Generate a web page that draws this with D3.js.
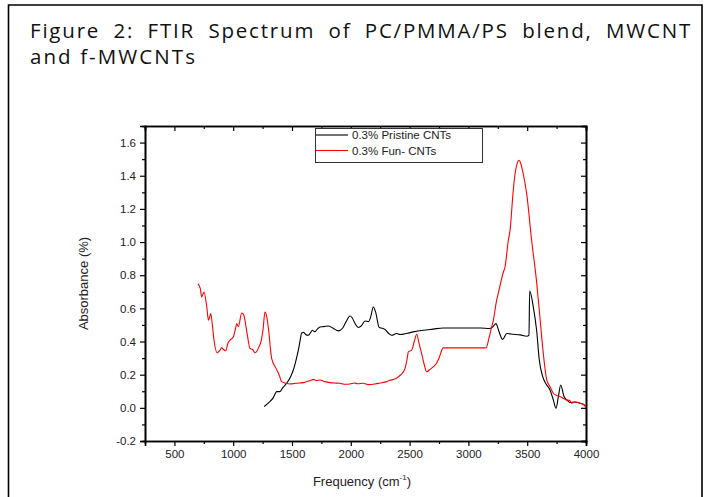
<!DOCTYPE html>
<html>
<head>
<meta charset="utf-8">
<script src="https://cdn.jsdelivr.net/npm/d3@7"></script>
<style>
  html, body { margin: 0; padding: 0; background: #fff; }
  svg { display: block; }
</style>
</head>
<body>
<svg width="704" height="497"></svg>
<script>
// Spectrum values (wavenumber in cm-1, absorbance)
const pristineX = [1264, 1300, 1340, 1370, 1398, 1420, 1455, 1490, 1511, 1535, 1554, 1570, 1582, 1600, 1620, 1639, 1655, 1673, 1685, 1696, 1715, 1738, 1770, 1809, 1850, 1894, 1930, 1960, 1993, 2010, 2035, 2064, 2090, 2121, 2150, 2170, 2191, 2210, 2242, 2270, 2291, 2320, 2347, 2390, 2418, 2480, 2531, 2616, 2700, 2786, 2900, 3000, 3100, 3183, 3210, 3234, 3260, 3291, 3326, 3382, 3440, 3496, 3515, 3521, 3552, 3580, 3603, 3632, 3660, 3694, 3722, 3745, 3765, 3785, 3813, 3840, 3864, 3900, 3949, 3980, 4000];
const pristineY = [0.008, 0.03, 0.06, 0.098, 0.098, 0.12, 0.148, 0.19, 0.228, 0.29, 0.348, 0.41, 0.452, 0.455, 0.44, 0.438, 0.45, 0.468, 0.462, 0.46, 0.475, 0.488, 0.49, 0.494, 0.48, 0.464, 0.48, 0.52, 0.554, 0.545, 0.51, 0.485, 0.495, 0.524, 0.52, 0.55, 0.608, 0.58, 0.485, 0.48, 0.473, 0.45, 0.438, 0.448, 0.442, 0.45, 0.458, 0.468, 0.475, 0.482, 0.482, 0.482, 0.482, 0.479, 0.49, 0.508, 0.46, 0.412, 0.448, 0.444, 0.44, 0.432, 0.438, 0.705, 0.608, 0.468, 0.288, 0.188, 0.144, 0.108, 0.048, -0.002, 0.068, 0.138, 0.068, 0.045, 0.032, 0.035, 0.028, 0.02, 0.005];

const funX = [700, 720, 732, 752, 775, 790, 809, 823, 837, 865, 885, 902, 920, 936, 955, 973, 1001, 1020, 1030, 1044, 1072, 1090, 1100, 1120, 1143, 1165, 1185, 1200, 1219, 1236, 1255, 1270, 1285, 1298, 1327, 1364, 1390, 1412, 1450, 1483, 1530, 1560, 1596, 1630, 1660, 1681, 1710, 1738, 1780, 1823, 1860, 1908, 1950, 1993, 2030, 2060, 2106, 2150, 2206, 2250, 2290, 2333, 2380, 2418, 2440, 2461, 2480, 2489, 2518, 2540, 2560, 2580, 2602, 2625, 2645, 2670, 2702, 2730, 2752, 2786, 2900, 3000, 3150, 3175, 3198, 3212, 3240, 3254, 3297, 3311, 3339, 3354, 3380, 3396, 3415, 3430, 3445, 3461, 3496, 3538, 3580, 3609, 3637, 3666, 3694, 3722, 3750, 3779, 3800, 3836, 3860, 3878, 3910, 3949, 3980, 4000];
const funY = [0.749, 0.72, 0.669, 0.699, 0.609, 0.528, 0.569, 0.5, 0.408, 0.332, 0.345, 0.362, 0.35, 0.344, 0.39, 0.408, 0.428, 0.48, 0.508, 0.49, 0.572, 0.56, 0.528, 0.44, 0.358, 0.352, 0.332, 0.34, 0.368, 0.398, 0.48, 0.578, 0.55, 0.488, 0.298, 0.238, 0.2, 0.158, 0.148, 0.144, 0.148, 0.15, 0.152, 0.16, 0.165, 0.172, 0.165, 0.168, 0.158, 0.152, 0.15, 0.148, 0.142, 0.144, 0.15, 0.145, 0.148, 0.14, 0.144, 0.15, 0.155, 0.166, 0.175, 0.195, 0.21, 0.238, 0.3, 0.338, 0.348, 0.4, 0.444, 0.39, 0.328, 0.26, 0.218, 0.23, 0.248, 0.27, 0.304, 0.362, 0.362, 0.362, 0.362, 0.42, 0.488, 0.528, 0.648, 0.69, 0.818, 0.848, 1.008, 1.069, 1.3, 1.409, 1.475, 1.493, 1.475, 1.429, 1.289, 1.009, 0.76, 0.54, 0.328, 0.168, 0.128, 0.088, 0.075, 0.068, 0.06, 0.048, 0.045, 0.028, 0.035, 0.028, 0.02, 0.004];

const xTicks = [500, 1000, 1500, 2000, 2500, 3000, 3500, 4000];
const yTicks = [-0.2, 0.0, 0.2, 0.4, 0.6, 0.8, 1.0, 1.2, 1.4, 1.6];
const seriesNames = ["0.3% Pristine CNTs", "0.3% Fun- CNTs"];
const seriesColors = ["#000000", "#ff0000"];
const titleLines = ["Figure 2: FTIR Spectrum of PC/PMMA/PS blend, MWCNT", "and f-MWCNTs"];

const svg = d3.select("svg");
const axisFont = "'Liberation Sans', Arial, sans-serif";
const titleFont = "'Open Sans', sans-serif";

// outer frame of the figure box
svg.append("path")
    .attr("d", "M8.5,497 V5 H702 V497")
    .attr("fill", "none")
    .attr("stroke", "#000")
    .attr("stroke-width", 1.6);

// title, first line justified by widening the spaces
const t1 = svg.append("text")
    .attr("x", 30).attr("y", 38)
    .attr("font-family", titleFont)
    .attr("font-size", 20.5)
    .attr("letter-spacing", 1.8)
    .attr("fill", "#111")
    .text(titleLines[0]);
const gaps = titleLines[0].split(" ").length - 1;
const extra = (662 - t1.node().getComputedTextLength()) / gaps;
t1.attr("word-spacing", extra);
svg.append("text")
    .attr("x", 30).attr("y", 64)
    .attr("font-family", titleFont)
    .attr("font-size", 20.5)
    .attr("letter-spacing", 1.1)
    .attr("fill", "#111")
    .attr("textLength", 166)
    .attr("lengthAdjust", "spacing")
    .text(titleLines[1]);

// plot area
const plotLeft = 145, plotRight = 586, plotTop = 126, plotBottom = 441;
const x = d3.scaleLinear().domain([250, 4000]).range([plotLeft, plotRight]);
const y = d3.scaleLinear().domain([-0.2, 1.7]).range([plotBottom, plotTop]);

const xMinor = d3.range(750, 4000, 500);
const yMinor = d3.range(-0.1, 1.7, 0.2);
const yFormat = d => d.toFixed(1);

function styleAxis(g) {
    g.select(".domain").attr("stroke-width", 1.6);
    g.selectAll("line").attr("stroke-width", 1.2);
    g.selectAll("text").attr("font-family", axisFont).attr("font-size", 11.5).attr("fill", "#222");
}

// bottom axis with labels, minor ticks outward
svg.append("g")
    .attr("transform", `translate(0,${plotBottom})`)
    .call(d3.axisBottom(x).tickValues(xTicks).tickSize(5).tickPadding(4).tickFormat(d3.format("d")))
    .call(styleAxis);
svg.append("g")
    .attr("transform", `translate(0,${plotBottom})`)
    .call(d3.axisBottom(x).tickValues(xMinor).tickSize(3).tickFormat(""))
    .call(styleAxis);

// left axis
svg.append("g")
    .attr("transform", `translate(${plotLeft},0)`)
    .call(d3.axisLeft(y).tickValues(yTicks).tickSize(5).tickPadding(4).tickFormat(yFormat))
    .call(styleAxis);
svg.append("g")
    .attr("transform", `translate(${plotLeft},0)`)
    .call(d3.axisLeft(y).tickValues(yMinor).tickSize(3).tickFormat(""))
    .call(styleAxis);

// mirrored top and right axes, ticks pointing in
svg.append("g")
    .attr("transform", `translate(0,${plotTop})`)
    .call(d3.axisTop(x).tickValues(xTicks).tickSize(-5).tickFormat(""))
    .call(styleAxis);
svg.append("g")
    .attr("transform", `translate(0,${plotTop})`)
    .call(d3.axisTop(x).tickValues(xMinor).tickSize(-3).tickFormat(""))
    .call(styleAxis);
svg.append("g")
    .attr("transform", `translate(${plotRight},0)`)
    .call(d3.axisRight(y).tickValues(yTicks).tickSize(-5).tickFormat(""))
    .call(styleAxis);
svg.append("g")
    .attr("transform", `translate(${plotRight},0)`)
    .call(d3.axisRight(y).tickValues(yMinor).tickSize(-3).tickFormat(""))
    .call(styleAxis);

// axis titles
svg.append("text")
    .attr("x", 362).attr("y", 486)
    .attr("text-anchor", "middle")
    .attr("font-family", axisFont)
    .attr("font-size", 13)
    .attr("fill", "#222")
    .html('Frequency (cm<tspan dy="-6" font-size="8">-1</tspan><tspan dy="6">)</tspan>');
svg.append("text")
    .attr("transform", `translate(88,${(plotTop + plotBottom) / 2}) rotate(-90)`)
    .attr("text-anchor", "middle")
    .attr("font-family", axisFont)
    .attr("font-size", 13)
    .attr("fill", "#222")
    .text("Absorbance (%)");

// the two spectra
const line = d3.line()
    .x(d => x(d[0]))
    .y(d => y(d[1]))
    .curve(d3.curveMonotoneX);

const series = [
    d3.zip(pristineX, pristineY),
    d3.zip(funX, funY)
];

svg.append("g")
    .selectAll("path")
    .data(series)
    .join("path")
    .attr("d", line)
    .attr("fill", "none")
    .attr("stroke", (d, i) => seriesColors[i])
    .attr("stroke-width", 1.1);

// legend
const legend = svg.append("g");
legend.append("rect")
    .attr("x", 315.5).attr("y", 128.5)
    .attr("width", 167).attr("height", 34)
    .attr("fill", "#fff")
    .attr("stroke", "#333")
    .attr("stroke-width", 1);
seriesNames.forEach((name, i) => {
    const ly = 135 + i * 15.5;
    legend.append("line")
        .attr("x1", 316).attr("x2", 348)
        .attr("y1", ly).attr("y2", ly)
        .attr("stroke", seriesColors[i])
        .attr("stroke-width", 1.1);
    legend.append("text")
        .attr("x", 352).attr("y", ly + 4)
        .attr("font-family", axisFont)
        .attr("font-size", 11.5)
        .attr("fill", "#222")
        .text(name);
});
</script>
</body>
</html>
